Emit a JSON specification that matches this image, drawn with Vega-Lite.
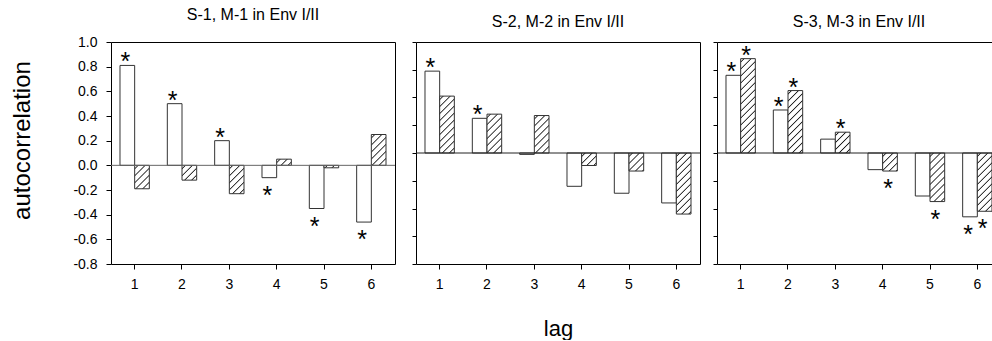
{
  "$schema": "https://vega.github.io/schema/vega-lite/v6.json",
  "padding": {"left": 10, "top": 6, "right": 0, "bottom": 0},
  "background": "white",
  "params": [
    {"name": "hatch", "value": [
      {"offset": 0.0183, "color": "#ffffff"}, {"offset": 0.0278, "color": "#1a1a1a"}, {"offset": 0.0373, "color": "#ffffff"},
      {"offset": 0.0738, "color": "#ffffff"}, {"offset": 0.0833, "color": "#1a1a1a"}, {"offset": 0.0928, "color": "#ffffff"},
      {"offset": 0.1294, "color": "#ffffff"}, {"offset": 0.1389, "color": "#1a1a1a"}, {"offset": 0.1484, "color": "#ffffff"},
      {"offset": 0.1849, "color": "#ffffff"}, {"offset": 0.1944, "color": "#1a1a1a"}, {"offset": 0.2039, "color": "#ffffff"},
      {"offset": 0.2405, "color": "#ffffff"}, {"offset": 0.25, "color": "#1a1a1a"}, {"offset": 0.2595, "color": "#ffffff"},
      {"offset": 0.2961, "color": "#ffffff"}, {"offset": 0.3056, "color": "#1a1a1a"}, {"offset": 0.3151, "color": "#ffffff"},
      {"offset": 0.3516, "color": "#ffffff"}, {"offset": 0.3611, "color": "#1a1a1a"}, {"offset": 0.3706, "color": "#ffffff"},
      {"offset": 0.4072, "color": "#ffffff"}, {"offset": 0.4167, "color": "#1a1a1a"}, {"offset": 0.4262, "color": "#ffffff"},
      {"offset": 0.4627, "color": "#ffffff"}, {"offset": 0.4722, "color": "#1a1a1a"}, {"offset": 0.4817, "color": "#ffffff"},
      {"offset": 0.5183, "color": "#ffffff"}, {"offset": 0.5278, "color": "#1a1a1a"}, {"offset": 0.5373, "color": "#ffffff"},
      {"offset": 0.5738, "color": "#ffffff"}, {"offset": 0.5833, "color": "#1a1a1a"}, {"offset": 0.5928, "color": "#ffffff"},
      {"offset": 0.6294, "color": "#ffffff"}, {"offset": 0.6389, "color": "#1a1a1a"}, {"offset": 0.6484, "color": "#ffffff"},
      {"offset": 0.6849, "color": "#ffffff"}, {"offset": 0.6944, "color": "#1a1a1a"}, {"offset": 0.7039, "color": "#ffffff"},
      {"offset": 0.7405, "color": "#ffffff"}, {"offset": 0.75, "color": "#1a1a1a"}, {"offset": 0.7595, "color": "#ffffff"},
      {"offset": 0.7961, "color": "#ffffff"}, {"offset": 0.8056, "color": "#1a1a1a"}, {"offset": 0.8151, "color": "#ffffff"},
      {"offset": 0.8516, "color": "#ffffff"}, {"offset": 0.8611, "color": "#1a1a1a"}, {"offset": 0.8706, "color": "#ffffff"},
      {"offset": 0.9072, "color": "#ffffff"}, {"offset": 0.9167, "color": "#1a1a1a"}, {"offset": 0.9262, "color": "#ffffff"},
      {"offset": 0.9627, "color": "#ffffff"}, {"offset": 0.9722, "color": "#1a1a1a"}, {"offset": 0.9817, "color": "#ffffff"}
    ]}
  ],
  "datasets": {
    "acf": [
      {"panel": "p1", "lag": 1, "series": "I", "value": 0.81, "sig": true},
      {"panel": "p1", "lag": 1, "series": "II", "value": -0.19, "sig": false},
      {"panel": "p1", "lag": 2, "series": "I", "value": 0.50, "sig": true},
      {"panel": "p1", "lag": 2, "series": "II", "value": -0.12, "sig": false},
      {"panel": "p1", "lag": 3, "series": "I", "value": 0.20, "sig": true},
      {"panel": "p1", "lag": 3, "series": "II", "value": -0.23, "sig": false},
      {"panel": "p1", "lag": 4, "series": "I", "value": -0.10, "sig": true},
      {"panel": "p1", "lag": 4, "series": "II", "value": 0.05, "sig": false},
      {"panel": "p1", "lag": 5, "series": "I", "value": -0.35, "sig": true},
      {"panel": "p1", "lag": 5, "series": "II", "value": -0.02, "sig": false},
      {"panel": "p1", "lag": 6, "series": "I", "value": -0.46, "sig": true},
      {"panel": "p1", "lag": 6, "series": "II", "value": 0.25, "sig": false},
      {"panel": "p2", "lag": 1, "series": "I", "value": 0.59, "sig": true},
      {"panel": "p2", "lag": 1, "series": "II", "value": 0.41, "sig": false},
      {"panel": "p2", "lag": 2, "series": "I", "value": 0.25, "sig": true},
      {"panel": "p2", "lag": 2, "series": "II", "value": 0.28, "sig": false},
      {"panel": "p2", "lag": 3, "series": "I", "value": -0.01, "sig": false},
      {"panel": "p2", "lag": 3, "series": "II", "value": 0.27, "sig": false},
      {"panel": "p2", "lag": 4, "series": "I", "value": -0.24, "sig": false},
      {"panel": "p2", "lag": 4, "series": "II", "value": -0.09, "sig": false},
      {"panel": "p2", "lag": 5, "series": "I", "value": -0.29, "sig": false},
      {"panel": "p2", "lag": 5, "series": "II", "value": -0.13, "sig": false},
      {"panel": "p2", "lag": 6, "series": "I", "value": -0.36, "sig": false},
      {"panel": "p2", "lag": 6, "series": "II", "value": -0.44, "sig": false},
      {"panel": "p3", "lag": 1, "series": "I", "value": 0.56, "sig": true},
      {"panel": "p3", "lag": 1, "series": "II", "value": 0.68, "sig": true},
      {"panel": "p3", "lag": 2, "series": "I", "value": 0.31, "sig": true},
      {"panel": "p3", "lag": 2, "series": "II", "value": 0.45, "sig": true},
      {"panel": "p3", "lag": 3, "series": "I", "value": 0.10, "sig": false},
      {"panel": "p3", "lag": 3, "series": "II", "value": 0.15, "sig": true},
      {"panel": "p3", "lag": 4, "series": "I", "value": -0.12, "sig": false},
      {"panel": "p3", "lag": 4, "series": "II", "value": -0.13, "sig": true},
      {"panel": "p3", "lag": 5, "series": "I", "value": -0.31, "sig": false},
      {"panel": "p3", "lag": 5, "series": "II", "value": -0.35, "sig": true},
      {"panel": "p3", "lag": 6, "series": "I", "value": -0.46, "sig": true},
      {"panel": "p3", "lag": 6, "series": "II", "value": -0.42, "sig": true}
    ]
  },
  "bounds": "flush",
  "spacing": 21,
  "hconcat": [
    {
      "width": 284, "height": 222,
      "title": {"text": "S-1, M-1 in Env I/II"},
      "data": {"name": "acf"},
      "transform": [{"filter": "datum.panel == 'p1'"}],
      "layer": [
        {
          "mark": {"type": "bar", "stroke": "#333333", "strokeWidth": 1},
          "encoding": {
            "x": {"field": "lag", "type": "ordinal", "scale": {"paddingInner": 0.38, "paddingOuter": 0.19}, "axis": {"title": null}},
            "xOffset": {"field": "series", "type": "nominal", "scale": {"paddingInner": 0, "paddingOuter": 0}},
            "y": {"field": "value", "type": "quantitative", "scale": {"domain": [-0.8, 1.0], "nice": false, "zero": false}, "axis": {"title": "autocorrelation", "titleY": 98, "tickCount": 10, "values": [-0.8, -0.6, -0.4, -0.2, 0, 0.2, 0.4, 0.6, 0.8, 1.0], "labelExpr": "replace(format(datum.value, '.1f'), '\u2212', '-')"}},
            "y2": {"datum": 0},
            "fill": {"value": {"expr": "datum.series == 'I' ? 'white' : {gradient: 'linear', x1: 0, y1: 0, x2: 1848 / (215 + pow(abs(datum.value) * (datum.panel == 'p1' ? 123.33 : 138.75), 2)), y2: 126 * abs(datum.value) * (datum.panel == 'p1' ? 123.33 : 138.75) / (215 + pow(abs(datum.value) * (datum.panel == 'p1' ? 123.33 : 138.75), 2)), stops: hatch}"}}
          }
        },
        {
          "transform": [{"filter": "datum.sig && datum.value > 0"}],
          "mark": {"type": "text", "text": "*", "fontSize": 25, "baseline": "alphabetic", "dy": 5, "dx": -2, "color": "black"},
          "encoding": {
            "x": {"field": "lag", "type": "ordinal", "axis": {"title": null}},
            "xOffset": {"field": "series", "type": "nominal"},
            "y": {"field": "value", "type": "quantitative", "axis": {"title": "autocorrelation", "titleY": 98, "tickCount": 10, "values": [-0.8, -0.6, -0.4, -0.2, 0, 0.2, 0.4, 0.6, 0.8, 1.0], "labelExpr": "replace(format(datum.value, '.1f'), '\u2212', '-')"}}
          }
        },
        {
          "transform": [{"filter": "datum.sig && datum.value < 0"}],
          "mark": {"type": "text", "text": "*", "fontSize": 25, "baseline": "alphabetic", "dy": 26, "dx": -2, "color": "black"},
          "encoding": {
            "x": {"field": "lag", "type": "ordinal", "axis": {"title": null}},
            "xOffset": {"field": "series", "type": "nominal"},
            "y": {"field": "value", "type": "quantitative", "axis": {"title": "autocorrelation", "titleY": 98, "tickCount": 10, "values": [-0.8, -0.6, -0.4, -0.2, 0, 0.2, 0.4, 0.6, 0.8, 1.0], "labelExpr": "replace(format(datum.value, '.1f'), '\u2212', '-')"}}
          }
        },
        {
          "data": {"values": [{}]},
          "mark": {"type": "rule", "color": "#666666", "strokeWidth": 1},
          "encoding": {"y": {"datum": 0}}
        }
      ]
    },
    {
      "bounds": "flush",
      "spacing": 17,
      "hconcat": [
        {
          "width": 284, "height": 222,
          "title": {"text": "S-2, M-2 in Env I/II"},
          "data": {"name": "acf"},
          "transform": [{"filter": "datum.panel == 'p2'"}],
          "layer": [
            {
              "mark": {"type": "bar", "stroke": "#333333", "strokeWidth": 1},
              "encoding": {
                "x": {"field": "lag", "type": "ordinal", "scale": {"paddingInner": 0.38, "paddingOuter": 0.19}, "axis": {"title": "lag"}},
                "xOffset": {"field": "series", "type": "nominal", "scale": {"paddingInner": 0, "paddingOuter": 0}},
                "y": {"field": "value", "type": "quantitative", "scale": {"domain": [-0.8, 0.8], "nice": false, "zero": false}, "axis": {"title": null, "labels": false, "tickSize": 4, "tickCount": 9, "values": [-0.8, -0.6, -0.4, -0.2, 0, 0.2, 0.4, 0.6, 0.8]}},
                "y2": {"datum": 0},
                "fill": {"value": {"expr": "datum.series == 'I' ? 'white' : {gradient: 'linear', x1: 0, y1: 0, x2: 1848 / (215 + pow(abs(datum.value) * (datum.panel == 'p1' ? 123.33 : 138.75), 2)), y2: 126 * abs(datum.value) * (datum.panel == 'p1' ? 123.33 : 138.75) / (215 + pow(abs(datum.value) * (datum.panel == 'p1' ? 123.33 : 138.75), 2)), stops: hatch}"}}
              }
            },
            {
              "transform": [{"filter": "datum.sig && datum.value > 0"}],
              "mark": {"type": "text", "text": "*", "fontSize": 25, "baseline": "alphabetic", "dy": 5, "dx": -2, "color": "black"},
              "encoding": {
                "x": {"field": "lag", "type": "ordinal", "axis": {"title": "lag"}},
                "xOffset": {"field": "series", "type": "nominal"},
                "y": {"field": "value", "type": "quantitative", "axis": {"title": null, "labels": false, "tickSize": 4, "tickCount": 9, "values": [-0.8, -0.6, -0.4, -0.2, 0, 0.2, 0.4, 0.6, 0.8]}}
              }
            },
            {
              "data": {"values": [{}]},
              "mark": {"type": "rule", "color": "#222222", "strokeWidth": 1},
              "encoding": {"y": {"datum": 0}}
            }
          ]
        },
        {
          "width": 284, "height": 222,
          "title": {"text": "S-3, M-3 in Env I/II"},
          "data": {"name": "acf"},
          "transform": [{"filter": "datum.panel == 'p3'"}],
          "layer": [
            {
              "mark": {"type": "bar", "stroke": "#333333", "strokeWidth": 1},
              "encoding": {
                "x": {"field": "lag", "type": "ordinal", "scale": {"paddingInner": 0.38, "paddingOuter": 0.19}, "axis": {"title": null}},
                "xOffset": {"field": "series", "type": "nominal", "scale": {"paddingInner": 0, "paddingOuter": 0}},
                "y": {"field": "value", "type": "quantitative", "scale": {"domain": [-0.8, 0.8], "nice": false, "zero": false}, "axis": {"title": null, "labels": false, "tickSize": 4, "tickCount": 9, "values": [-0.8, -0.6, -0.4, -0.2, 0, 0.2, 0.4, 0.6, 0.8]}},
                "y2": {"datum": 0},
                "fill": {"value": {"expr": "datum.series == 'I' ? 'white' : {gradient: 'linear', x1: 0, y1: 0, x2: 1848 / (215 + pow(abs(datum.value) * (datum.panel == 'p1' ? 123.33 : 138.75), 2)), y2: 126 * abs(datum.value) * (datum.panel == 'p1' ? 123.33 : 138.75) / (215 + pow(abs(datum.value) * (datum.panel == 'p1' ? 123.33 : 138.75), 2)), stops: hatch}"}}
              }
            },
            {
              "transform": [{"filter": "datum.sig && datum.value > 0"}],
              "mark": {"type": "text", "text": "*", "fontSize": 25, "baseline": "alphabetic", "dy": 5, "dx": -2, "color": "black"},
              "encoding": {
                "x": {"field": "lag", "type": "ordinal", "axis": {"title": null}},
                "xOffset": {"field": "series", "type": "nominal"},
                "y": {"field": "value", "type": "quantitative", "axis": {"title": null, "labels": false, "tickSize": 4, "tickCount": 9, "values": [-0.8, -0.6, -0.4, -0.2, 0, 0.2, 0.4, 0.6, 0.8]}}
              }
            },
            {
              "transform": [{"filter": "datum.sig && datum.value < 0"}],
              "mark": {"type": "text", "text": "*", "fontSize": 25, "baseline": "alphabetic", "dy": 26, "dx": -2, "color": "black"},
              "encoding": {
                "x": {"field": "lag", "type": "ordinal", "axis": {"title": null}},
                "xOffset": {"field": "series", "type": "nominal"},
                "y": {"field": "value", "type": "quantitative", "axis": {"title": null, "labels": false, "tickSize": 4, "tickCount": 9, "values": [-0.8, -0.6, -0.4, -0.2, 0, 0.2, 0.4, 0.6, 0.8]}}
              }
            },
            {
              "data": {"values": [{}]},
              "mark": {"type": "rule", "color": "#222222", "strokeWidth": 1},
              "encoding": {"y": {"datum": 0}}
            }
          ]
        }
      ]
    }
  ],
  "config": {
    "font": "Liberation Sans",
    "view": {"stroke": "black", "strokeWidth": 1},
    "axis": {"grid": false, "domain": false, "tickColor": "black", "labelColor": "black", "labelFont": "Liberation Sans", "labelFontSize": 14, "labelOverlap": false, "labelFlush": false, "titleColor": "black", "titleFont": "Liberation Sans", "titleFontWeight": "normal"},
    "axisX": {"tickSize": 5, "labelPadding": 8, "labelAngle": 0, "titleFontSize": 22, "titlePadding": 27},
    "axisY": {"tickSize": 5, "labelPadding": 9, "titleFontSize": 24, "titlePadding": 38},
    "title": {"fontSize": 16, "fontWeight": "normal", "font": "Liberation Sans", "color": "black", "anchor": "middle", "frame": "group", "offset": 12, "baseline": "alphabetic"}
  }
}
